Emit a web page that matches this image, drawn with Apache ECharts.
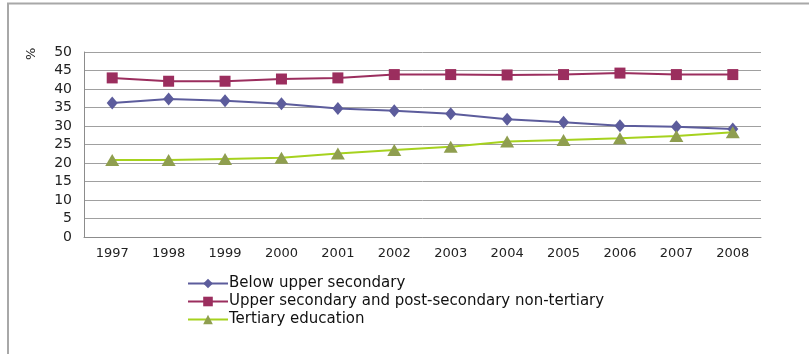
<!DOCTYPE html>
<html>
<head>
<meta charset="utf-8">
<script src="https://cdn.jsdelivr.net/npm/echarts@6/dist/echarts.min.js"></script>
<style>
  html, body { margin: 0; padding: 0; background: #ffffff; }
  #chart { width: 809px; height: 354px; }
</style>
</head>
<body>
<div id="chart"></div>
<script>
// Share of adult population by educational attainment, 1997-2008 (%)
const years = ['1997', '1998', '1999', '2000', '2001', '2002', '2003', '2004', '2005', '2006', '2007', '2008'];
const belowUpperSecondary = [36.2, 37.3, 36.8, 36.0, 34.7, 34.1, 33.3, 31.8, 31.0, 30.1, 29.8, 29.2];
const upperSecondary = [43.0, 42.1, 42.1, 42.7, 43.0, 43.9, 43.9, 43.8, 43.9, 44.3, 43.9, 43.9];
const tertiary = [20.8, 20.8, 21.1, 21.4, 22.6, 23.5, 24.4, 25.8, 26.2, 26.7, 27.3, 28.3];
const seriesNames = [
  'Below upper secondary',
  'Upper secondary and post-secondary non-tertiary',
  'Tertiary education'
];

const font = 'DejaVu Sans, Verdana, sans-serif';
const chart = echarts.init(document.getElementById('chart'), null, { renderer: 'canvas' });

chart.setOption({
  animation: false,
  backgroundColor: '#ffffff',
  textStyle: { fontFamily: font },
  grid: { left: 84, right: 48, top: 52, bottom: 117, containLabel: false },
  legend: {
    orient: 'vertical',
    left: 182,
    top: 271,
    itemWidth: 40,
    itemHeight: 12,
    itemGap: 3,
    textStyle: { fontFamily: font, fontSize: 15, color: '#111111', padding: [0, 0, 0, -4] },
    data: seriesNames
  },
  xAxis: {
    type: 'category',
    data: years,
    boundaryGap: true,
    axisLine: { show: true, lineStyle: { color: '#8c8c8c', width: 1 } },
    axisTick: { show: false },
    axisLabel: { fontFamily: font, fontSize: 13, color: '#222222', margin: 10 },
    splitLine: { show: false }
  },
  yAxis: {
    type: 'value',
    min: 0,
    max: 50,
    interval: 5,
    axisLine: { show: true, lineStyle: { color: '#8c8c8c', width: 1 } },
    axisTick: { show: false },
    axisLabel: { fontFamily: font, fontSize: 14, color: '#222222', margin: 12 },
    splitLine: { show: true, lineStyle: { color: '#a0a0a0', width: 1 } }
  },
  graphic: [
    {
      type: 'polyline',
      shape: { points: [[8, 354], [8, 3.5], [809, 3.5]] },
      style: { stroke: '#a8a8a8', lineWidth: 2, fill: null },
      silent: true
    },
    {
      type: 'text',
      x: 25,
      y: 60,
      rotation: Math.PI / 2,
      style: { text: '%', fontFamily: font, fontSize: 13, fill: '#222222' },
      silent: true
    }
  ],
  series: [
    {
      name: seriesNames[0],
      type: 'line',
      data: belowUpperSecondary,
      symbol: 'diamond',
      symbolSize: [11, 13],
      itemStyle: { color: '#5c5c9c' },
      lineStyle: { color: '#5c5c9c', width: 2 },
      z: 3
    },
    {
      name: seriesNames[1],
      type: 'line',
      data: upperSecondary,
      symbol: 'rect',
      symbolSize: 11,
      itemStyle: { color: '#9b2e5e' },
      lineStyle: { color: '#9b2e5e', width: 2 },
      z: 2
    },
    {
      name: seriesNames[2],
      type: 'line',
      data: tertiary,
      symbol: 'triangle',
      symbolSize: [14, 12],
      itemStyle: { color: '#8f9e4f' },
      lineStyle: { color: '#a6d21e', width: 2 },
      z: 4
    }
  ]
});
</script>
</body>
</html>
